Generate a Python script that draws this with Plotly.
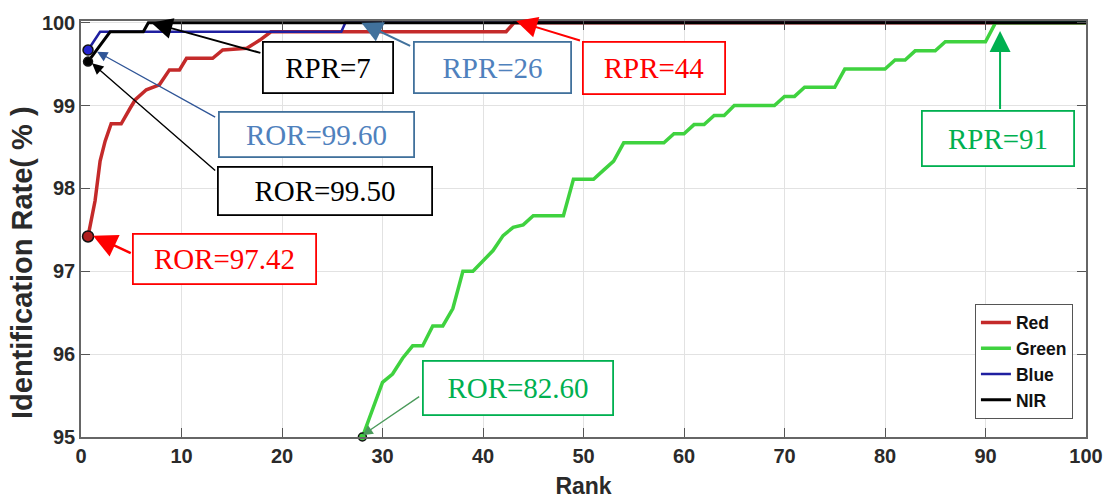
import plotly.graph_objects as go

# ---------------- data ----------------
red_rank = [0.7, 1.4, 1.9, 2.4, 3.0, 4.0, 4.9, 5.4, 6.5, 7.8, 8.8, 9.8, 10.5, 12.1, 13.1,
            14.1, 16.5, 17.8, 18.9, 42.3, 43.1, 100]
red_rate = [97.42, 97.85, 98.33, 98.57, 98.78, 98.78, 98.97, 99.07, 99.19, 99.25, 99.43,
            99.43, 99.57, 99.57, 99.57, 99.67, 99.69, 99.79, 99.89, 99.89, 100.0, 100.0]

green_rank = list(range(28, 101))
green_rate = [95.00, 95.33, 95.66, 95.76, 95.95, 96.10, 96.10, 96.34, 96.34, 96.55,
              97.00, 97.00, 97.12, 97.25, 97.43, 97.53, 97.56, 97.67, 97.67, 97.67,
              97.67, 98.11, 98.11, 98.11, 98.22, 98.33, 98.55, 98.55, 98.55, 98.55,
              98.55, 98.66, 98.66, 98.77, 98.77, 98.88, 98.88, 99.00, 99.00, 99.00,
              99.00, 99.00, 99.11, 99.11, 99.22, 99.22, 99.22, 99.22, 99.44, 99.44,
              99.44, 99.44, 99.44, 99.55, 99.55, 99.66, 99.66, 99.66, 99.77, 99.77,
              99.77, 99.77, 99.77, 100.0, 100.0, 100.0, 100.0, 100.0, 100.0, 100.0,
              100.0, 100.0, 100.0]

blue_rank = [0.7, 1.9, 25.9, 26.3, 100]
blue_rate = [99.67, 99.89, 99.89, 100.0, 100.0]

nir_rank = [0.7, 2.9, 6.2, 6.7, 100]
nir_rate = [99.53, 99.89, 99.89, 100.0, 100.0]

series_names = ["Red", "Green", "Blue", "NIR"]
x_ticks = [0, 10, 20, 30, 40, 50, 60, 70, 80, 90, 100]
y_ticks = [95, 96, 97, 98, 99, 100]

ann_texts = ["RPR=7", "RPR=26", "RPR=44", "RPR=91",
             "ROR=99.60", "ROR=99.50", "ROR=97.42", "ROR=82.60"]
x_title = "Rank"
y_title = "Identification Rate( % )"

# ---------------- styles / layout ----------------
line_colors = ["#c42a2a", "#3fd23f", "#1f1fa0", "#000000"]
line_widths = [3.5, 3.5, 2.5, 3]

fig = go.Figure()
for name, xs, ys, c, w in zip(series_names,
                              [red_rank, green_rank, blue_rank, nir_rank],
                              [red_rate, green_rate, blue_rate, nir_rate],
                              line_colors, line_widths):
    fig.add_trace(go.Scatter(x=xs, y=ys, mode="lines", name=name,
                             line=dict(color=c, width=w)))

# first-point markers
marker_specs = [
    (red_rank[0], red_rate[0], "#b01e1e", 11),
    (green_rank[0], green_rate[0], "#3fd23f", 8),
    (blue_rank[0], blue_rate[0], "#2424d0", 10),
    (nir_rank[0], nir_rate[0], "#000000", 9),
]
for mx, my, mc, ms in marker_specs:
    fig.add_trace(go.Scatter(x=[mx], y=[my], mode="markers", showlegend=False,
                             cliponaxis=False, hoverinfo="skip",
                             marker=dict(color=mc, size=ms,
                                         line=dict(color="#111111", width=1.5))))

# annotation boxes: (text, center x, center y, box w, box h, text color, border color)
BLUE_T = "#4f81bd"
BLUE_B = "#41719c"
GREEN_T = "#00b050"
box_specs = [
    (ann_texts[0], 24.6, 99.455, 132, 53, "#000000", "#000000"),
    (ann_texts[1], 40.9, 99.455, 159, 53, BLUE_T, BLUE_B),
    (ann_texts[2], 57.05, 99.45, 144, 54, "#ff0000", "#ff0000"),
    (ann_texts[3], 91.25, 98.60, 154, 57, GREEN_T, GREEN_T),
    (ann_texts[4], 23.4, 98.65, 197, 47, BLUE_T, BLUE_B),
    (ann_texts[5], 24.25, 97.97, 216, 50, "#000000", "#000000"),
    (ann_texts[6], 14.25, 97.15, 185, 52, "#ff0000", "#ff0000"),
    (ann_texts[7], 43.53, 95.59, 192, 56, GREEN_T, GREEN_T),
]
BW = 1.8
for t, cx, cy, w, h, tc, bc in box_specs:
    fig.add_annotation(x=cx, y=cy, xref="x", yref="y", text=t, showarrow=False,
                       font=dict(family="Liberation Serif, Times New Roman", size=29, color=tc),
                       bgcolor="white", bordercolor=bc, borderwidth=BW, borderpad=0,
                       width=w - 2 * BW, height=h - 2 * BW, align="center", valign="middle")

# arrows: (head x, head y, tail x, tail y, color, width, size)
arrow_specs = [
    (7.0, 100.0, 18.0, 99.63, "#000000", 2.0, 2.1),
    (27.9, 100.0, 32.9, 99.71, BLUE_B, 2.0, 2.1),
    (43.3, 100.02, 49.8, 99.78, "#ff0000", 2.0, 2.1),
    (91.45, 99.90, 91.45, 98.94, GREEN_T, 2.0, 2.1),
    (1.6, 99.65, 13.5, 98.85, "#2f5597", 1.3, 1.6),
    (1.1, 99.51, 13.5, 98.2, "#000000", 1.4, 1.6),
    (1.2, 97.43, 5.1, 97.21, "#ff0000", 2.5, 1.9),
    (28.0, 95.02, 33.8, 95.50, "#4a9a5a", 1.3, 1.6),
]
for hx, hy, tx, ty, c, w, s in arrow_specs:
    fig.add_annotation(x=hx, y=hy, xref="x", yref="y", ax=tx, ay=ty, axref="x", ayref="y",
                       text="", showarrow=True, arrowhead=2, arrowcolor=c,
                       arrowwidth=w, arrowsize=s, standoff=0, startstandoff=0)

# y-axis title (placed as rotated text, offset as in the reference)
fig.add_annotation(x=-0.058, y=0.42, xref="paper", yref="paper", text=y_title,
                   showarrow=False, textangle=-90, xanchor="center", yanchor="middle",
                   font=dict(family="Liberation Sans, Arial", size=29, color="#2a2a2a",
                             weight="bold"))

tick_font = dict(family="Liberation Sans, Arial", size=20, color="#2a2a2a", weight="bold")
fig.update_layout(
    width=1111, height=499,
    margin=dict(l=81, r=25, t=21, b=62),
    paper_bgcolor="white", plot_bgcolor="white",
    font=dict(family="Liberation Sans, Arial", color="#2a2a2a"),
    showlegend=True,
    legend=dict(x=0.987, y=0.044, xanchor="right", yanchor="bottom",
                bordercolor="#555555", borderwidth=1, bgcolor="white",
                font=dict(family="Liberation Sans, Arial", size=17.5, color="#111111", weight="bold"),
                tracegroupgap=0, itemwidth=30),
    xaxis=dict(range=[0, 100], tickvals=x_ticks, tickfont=tick_font,
               title=dict(text=x_title,
                          font=dict(family="Liberation Sans, Arial", size=23,
                                    color="#2a2a2a", weight="bold"), standoff=14),
               showgrid=True, gridcolor="#e2e2e2", gridwidth=1, zeroline=False,
               showline=True, linecolor="#666666", linewidth=1.5, mirror="ticks",
               ticks="inside", ticklen=9, tickcolor="#555555", automargin=False),
    yaxis=dict(range=[95, 100.02], tickvals=y_ticks, tickfont=tick_font,
               showgrid=True, gridcolor="#e2e2e2", gridwidth=1, zeroline=False,
               showline=True, linecolor="#666666", linewidth=1.5, mirror="ticks",
               ticks="inside", ticklen=9, tickcolor="#555555", automargin=False),
)

fig.write_html("out.html")
